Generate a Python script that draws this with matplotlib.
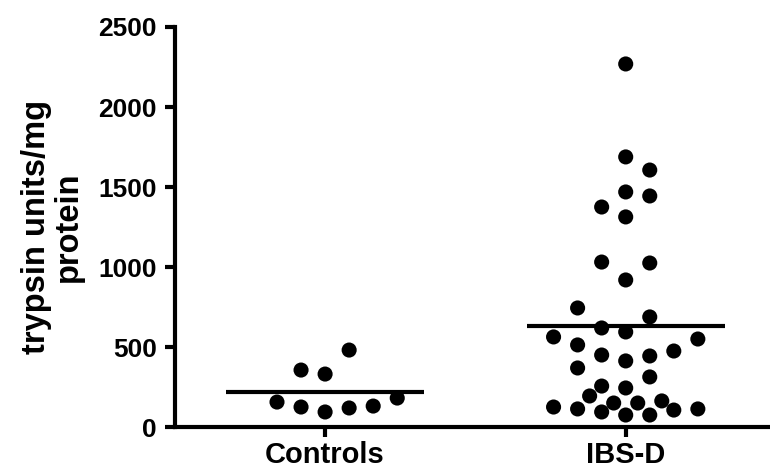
import numpy as np
import matplotlib
matplotlib.use("Agg")
import matplotlib.pyplot as plt

plt.rcParams['font.family'] = ['Liberation Sans', 'DejaVu Sans']
plt.rcParams['font.weight'] = 'bold'

groups = ['Controls', 'IBS-D']

# trypsin units/mg protein
controls = [481, 356, 331, 156, 125, 94, 119, 131, 181]
controls_slot = [1, -1, 0, -2, -1, 0, 1, 2, 3]

ibsd = [2269, 1688, 1606, 1469, 1444, 1375, 1313,
        1031, 1025, 919, 744, 688, 619, 594, 563, 550, 513, 475,
        450, 444, 413, 369, 313, 256, 244, 194, 125, 113, 94,
        150, 150, 163, 75, 75, 106, 113]
ibsd_slot = [0, 0, 1, 0, 1, -1, 0,
             -1, 1, 0, -2, 1, -1, 0, -3, 3, -2, 2,
             -1, 1, 0, -2, 1, -1, 0, -1.5, -3, -2, -1,
             -0.5, 0.5, 1.5, 0, 1, 2, 3]

yticks = [0, 500, 1000, 1500, 2000, 2500]

slot_w = 0.08   # horizontal spacing of the dot columns
mean_half = 0.33

fig = plt.figure(figsize=(7.7, 4.72), dpi=100)
ax = fig.add_axes([0.227, 0.0953, 0.773, 0.8475])

for i, (vals, slots) in enumerate([(controls, controls_slot), (ibsd, ibsd_slot)]):
    xs = i + np.array(slots) * slot_w
    ax.scatter(xs, vals, s=118, color='black', edgecolors='none', zorder=3, clip_on=False)
    m = np.mean(vals)
    ax.plot([i - mean_half, i + mean_half], [m, m], color='black', lw=3, solid_capstyle='butt', zorder=2)

ax.set_xlim(-0.5, 1.48)
ax.set_ylim(0, 2500)
ax.set_xticks([0, 1])
ax.set_xticklabels(groups)
ax.set_yticks(yticks)

for s in ['top', 'right']:
    ax.spines[s].set_visible(False)
for s in ['left', 'bottom']:
    ax.spines[s].set_linewidth(3)

ax.tick_params(axis='both', width=3, length=7)
ax.tick_params(axis='y', pad=6, labelsize=19)
ax.tick_params(axis='x', pad=3, labelsize=21)

ax.set_ylabel('trypsin units/mg\nprotein', fontsize=23.5, fontweight='bold', linespacing=1.05)
ax.yaxis.set_label_coords(-0.152, 0.5)

fig.savefig('out.png', dpi=100)
